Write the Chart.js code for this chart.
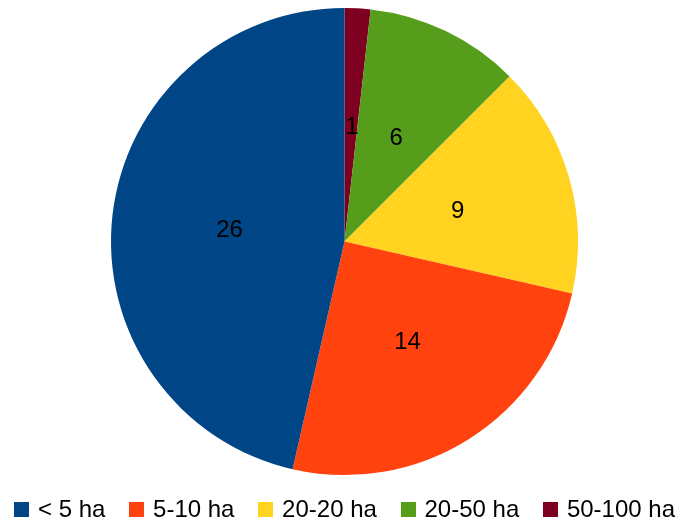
<!DOCTYPE html>
<html>
<head>
<meta charset="utf-8">
<script src="https://cdn.jsdelivr.net/npm/chart.js@4/dist/chart.umd.min.js"></script>
<style>
html,body{margin:0;padding:0;background:#fff;}
#wrap{width:683px;height:523px;position:relative;}
</style>
</head>
<body>
<div id="wrap"><canvas id="c"></canvas></div>
<script>
// Legend order categories and values
const categories = ["< 5 ha", "5-10 ha", "20-20 ha", "20-50 ha", "50-100 ha"];
const values = [26, 14, 9, 6, 1];
const colors = ["#004586", "#ff420e", "#ffd320", "#579d1c", "#7e0021"];

// The reference draws slices counter-clockwise from the top; Chart.js draws clockwise,
// so feed reversed arrays (legend drawn in original order below).
const revCats = categories.slice().reverse();
const revVals = values.slice().reverse();
const revCols = colors.slice().reverse();

const FONT = '24px "Liberation Sans", Arial, sans-serif';

const valueLabels = {
  id: 'valueLabels',
  afterDatasetsDraw(chart) {
    const ctx = chart.ctx;
    const meta = chart.getDatasetMeta(0);
    ctx.save();
    ctx.font = FONT;
    ctx.fillStyle = '#000';
    ctx.textAlign = 'center';
    ctx.textBaseline = 'middle';
    meta.data.forEach((arc, i) => {
      const p = arc.tooltipPosition();
      ctx.fillText(String(chart.data.datasets[0].data[i]), p.x + 1, p.y + 2);
    });
    ctx.restore();
  }
};

// Bottom legend in the reference's style: small square, short gap, text
const bottomLegend = {
  id: 'bottomLegend',
  afterDraw(chart) {
    const ctx = chart.ctx;
    ctx.save();
    ctx.font = FONT;
    ctx.textBaseline = 'middle';
    ctx.textAlign = 'left';
    const box = 15, gapBoxText = 9, totalTarget = 661;
    const widths = categories.map(t => ctx.measureText(t).width);
    const itemsW = widths.reduce((a, w) => a + box + gapBoxText + w, 0);
    const gap = (totalTarget - itemsW) / (categories.length - 1);
    let x = (chart.width - totalTarget) / 2 + 3;
    const cy = 509.5;
    categories.forEach((t, i) => {
      ctx.fillStyle = colors[i];
      ctx.fillRect(Math.round(x), Math.round(cy - box / 2), box, box);
      ctx.fillStyle = '#000';
      ctx.fillText(t, x + box + gapBoxText, cy + 1);
      x += box + gapBoxText + widths[i] + gap;
    });
    ctx.restore();
  }
};

new Chart(document.getElementById('c'), {
  type: 'pie',
  data: {
    labels: revCats,
    datasets: [{
      data: revVals,
      backgroundColor: revCols,
      borderWidth: 0
    }]
  },
  options: {
    responsive: true,
    maintainAspectRatio: false,
    animation: false,
    layout: { padding: { top: 8, bottom: 48, left: 6, right: 0 } },
    plugins: {
      tooltip: { enabled: false },
      legend: { display: false }
    }
  },
  plugins: [valueLabels, bottomLegend]
});
</script>
</body>
</html>
